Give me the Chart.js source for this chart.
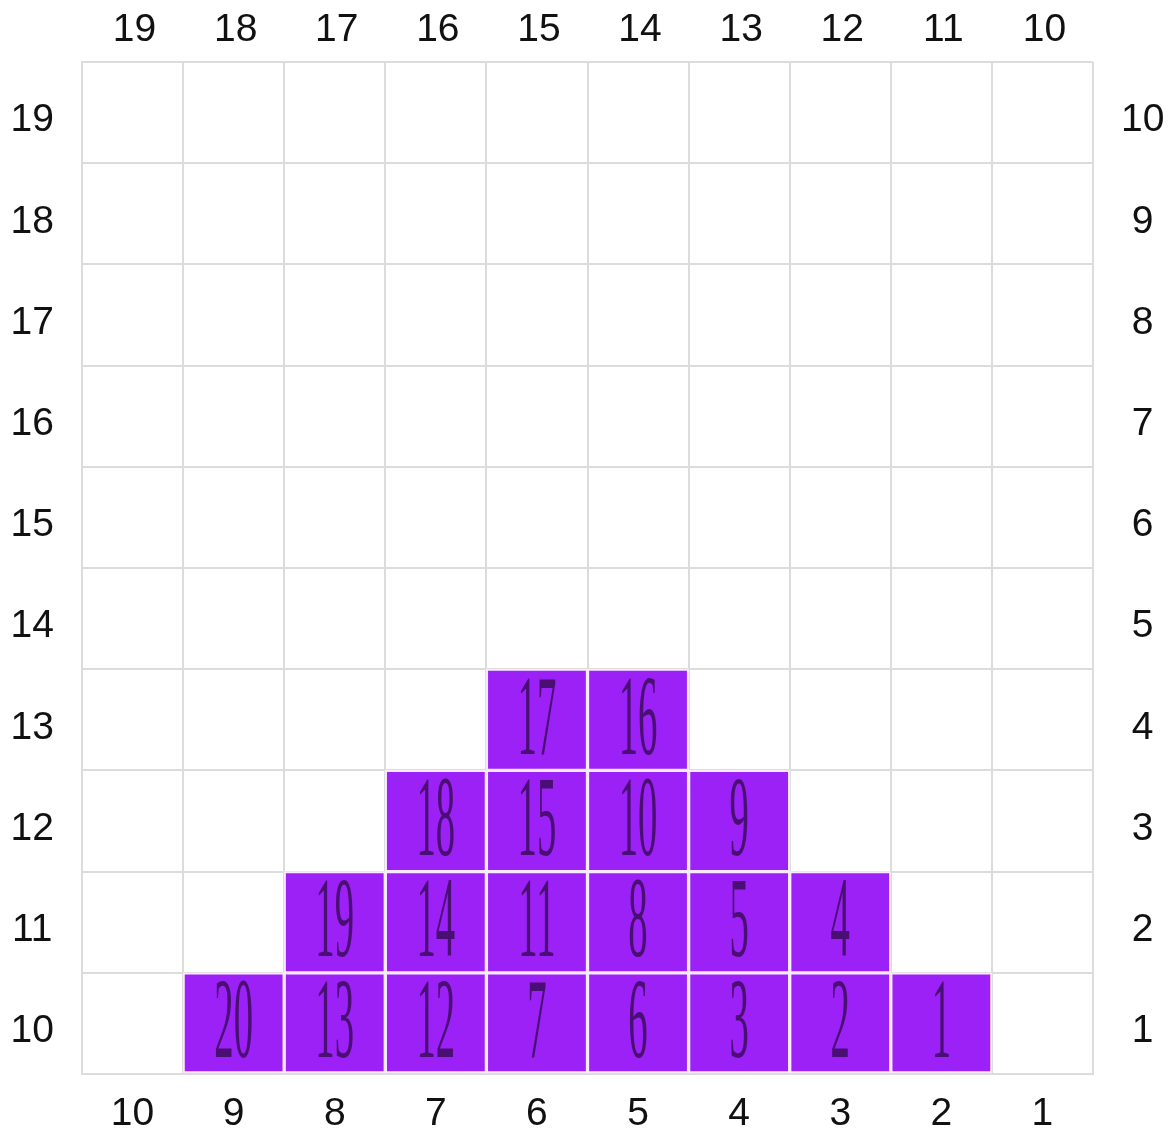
<!DOCTYPE html>
<html>
<head>
<meta charset="utf-8">
<script src="https://cdn.jsdelivr.net/npm/chart.js@4.4.0/dist/chart.umd.min.js"></script>
<style>
html,body{margin:0;padding:0;background:#fff;}
#wrap{width:1175px;height:1132px;}
</style>
</head>
<body>
<div id="wrap"><canvas id="c" width="1175" height="1132"></canvas></div>
<script>
// Tick labels
const bottomLabels = ['10','9','8','7','6','5','4','3','2','1'];
const topLabels = ['19','18','17','16','15','14','13','12','11','10'];
const leftLabels = ['19','18','17','16','15','14','13','12','11','10'];   // top to bottom
const rightLabels = ['10','9','8','7','6','5','4','3','2','1'];          // top to bottom

// Numbers written in the filled cells, per row counted from the bottom
const row1 = [null, 20, 13, 12, 7, 6, 3, 2, 1, null];
const row2 = [null, null, 19, 14, 11, 8, 5, 4, null, null];
const row3 = [null, null, null, 18, 15, 10, 9, null, null, null];
const row4 = [null, null, null, null, 17, 16, null, null, null, null];
const rows = [row1, row2, row3, row4];

const fillColor = '#9b21f6';
const gridColor = '#dcdcdc';
const labelFont = {family: '"Liberation Sans", Arial, sans-serif', size: 39};

const datasets = rows.map((r, i) => ({
  label: 'row ' + (i + 1),
  data: r.map(v => v == null ? null : [i, i + 1]),
  backgroundColor: fillColor,
  borderColor: '#fbeaff',
  borderWidth: 2,
  borderSkipped: false,
  grouped: false,
  barPercentage: 1,
  categoryPercentage: 1
}));

const cellText = {
  id: 'cellText',
  afterDatasetsDraw(chart) {
    const ctx = chart.ctx, xs = chart.scales.x, ys = chart.scales.y;
    rows.forEach((r, i) => r.forEach((v, c) => {
      if (v == null) return;
      const cx = xs.getPixelForValue(c);
      const cy = ys.getPixelForValue(i + 0.5);
      ctx.save();
      ctx.translate(cx, cy + 4);
      ctx.scale(0.34, 1);
      ctx.font = '114px "Liberation Serif", serif';
      ctx.textAlign = 'center';
      ctx.textBaseline = 'middle';
      ctx.fillStyle = '#4a0f72';
      ctx.fillText(String(v), 0, 0);
      ctx.restore();
    }));
  }
};

new Chart(document.getElementById('c'), {
  type: 'bar',
  data: {labels: bottomLabels, datasets},
  options: {
    responsive: false,
    animation: false,
    layout: {padding: 0},
    plugins: {legend: {display: false}, tooltip: {enabled: false}},
    scales: {
      x: {
        type: 'category', labels: bottomLabels, position: 'bottom', offset: true,
        grid: {offset: true, color: gridColor, lineWidth: 2, drawTicks: false},
        border: {color: gridColor, width: 2},
        ticks: {font: labelFont, color: '#111', padding: 17, maxRotation: 0, autoSkip: false},
        afterFit: s => { s.height = 58; }
      },
      xTop: {
        type: 'category', labels: topLabels, position: 'top', offset: true,
        grid: {display: false}, border: {display: false},
        ticks: {font: labelFont, color: '#111', padding: 0, labelOffset: 2, maxRotation: 0, autoSkip: false},
        afterFit: s => { s.height = 62; }
      },
      y: {
        type: 'linear', min: 0, max: 10, position: 'left',
        ticks: {display: false, stepSize: 1},
        grid: {color: gridColor, lineWidth: 2, drawTicks: false},
        border: {color: gridColor, width: 2},
        afterFit: s => { s.width = 0; }
      },
      yLeft: {
        type: 'category', labels: leftLabels, offset: true, position: 'left',
        grid: {display: false}, border: {display: false},
        ticks: {font: labelFont, color: '#111', padding: 20, labelOffset: 8, crossAlign: 'center', autoSkip: false},
        afterFit: s => { s.width = 82; }
      },
      yRight: {
        type: 'category', labels: rightLabels, offset: true, position: 'right',
        grid: {display: false}, border: {display: false},
        ticks: {font: labelFont, color: '#111', padding: 20, labelOffset: 8, crossAlign: 'center', autoSkip: false},
        afterFit: s => { s.width = 82; }
      }
    }
  },
  plugins: [cellText]
});
</script>
</body>
</html>
